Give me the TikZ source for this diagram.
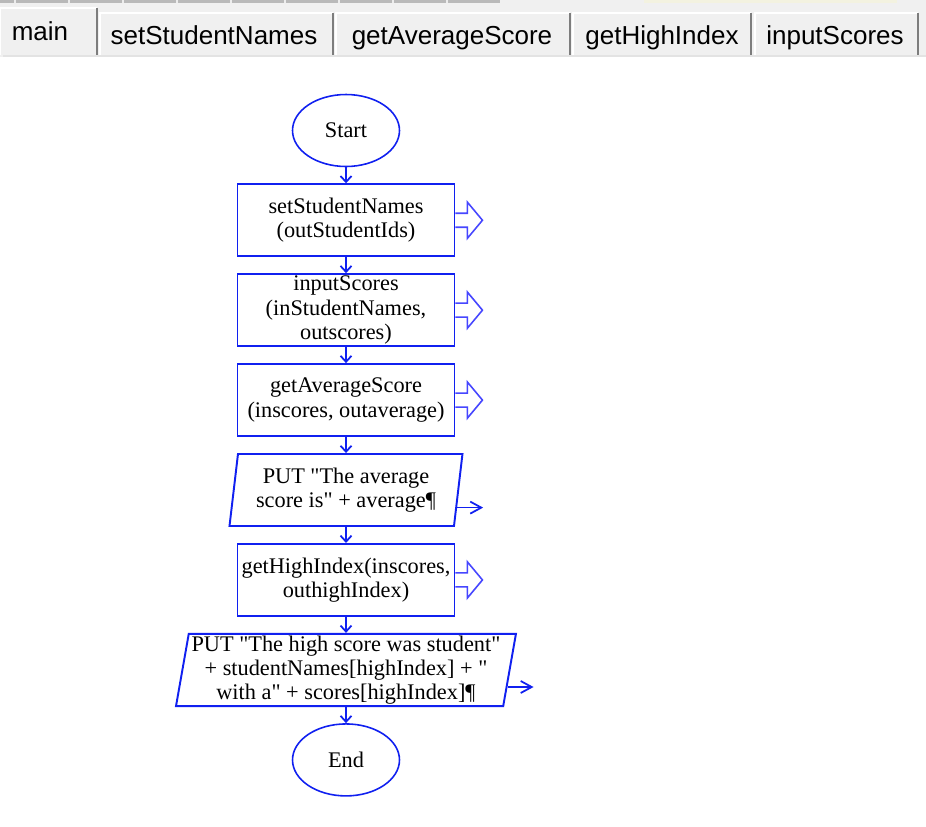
\documentclass[tikz,border=0pt]{standalone}
\usepackage{fontspec}
\setmainfont{Liberation Serif}[Ligatures=TeXOff]
\newfontfamily\tabfont{Liberation Sans}
\usepackage{xcolor}
\usepackage{tikz}
\usetikzlibrary{arrows.meta, positioning, shapes.geometric}
\definecolor{flowblue}{RGB}{16,32,240}
\definecolor{callblue}{RGB}{70,70,255}
\definecolor{tabgray}{RGB}{240,240,240}
\definecolor{tabshade}{RGB}{125,125,125}
\tikzset{
  terminal/.style={ellipse, draw=flowblue, line width=0.9pt, minimum width=2.14cm,
    minimum height=1.44cm, inner sep=0pt, font=\flowfont},
  callbox/.style={rectangle, draw=flowblue, line width=1.1pt, minimum width=4.34cm,
    minimum height=1.44cm, align=center, inner sep=1pt, font=\flowfont},
  outbox/.style={trapezium, trapezium left angle=80, trapezium right angle=100,
    trapezium stretches body, draw=flowblue, line width=1.1pt, minimum height=1.44cm,
    align=center, inner sep=1pt, font=\flowfont},
  flowline/.style={-{Straight Barb[length=1.2mm, width=2.2mm]}, draw=flowblue, line width=1pt},
  outarrow/.style={-{Straight Barb[length=2.2mm, width=2.4mm]}, draw=flowblue, line width=1pt},
  callout/.style={draw=callblue, line width=0.9pt, line join=miter},
  tablabel/.style={font=\tabfont\fontsize{14.8}{17}\selectfont, inner sep=0pt,
    anchor=base, text=black}
}
\newcommand{\flowfont}{\fontsize{12.7}{13.8}\selectfont}
\newcommand{\callarrow}[1]{\draw[callout] (#1.east) ++(0,-7) -- ++(12,0) -- ++(0,-11)
  -- ++(15,18) -- ++(-15,18) -- ++(0,-11) -- ++(-12,0);}
\newcommand{\tabframe}[3]{%
  \draw[white, line width=1pt] (#1,55) -- (#1,#3) -- (#2,#3);
  \draw[tabshade, line width=1.6pt] (#2,#3) -- (#2,55);}

\begin{document}
\begin{tikzpicture}[x=0.02cm, y=-0.02cm, node distance=0.32cm]
  \useasboundingbox (0,0) rectangle (926,826);
  % window and tab strip
  \fill[tabgray] (0,0) rectangle (926,57);
  \fill[white] (3,57) rectangle (926,826);
  \draw[gray!22, line width=1pt] (3,56) -- (926,56);
  \fill[gray!55] (0,0) rectangle (500,3);
  \foreach \x in {15,69,123,177,231,285,339,393,447}
    \draw[gray!15, line width=0.8pt] (\x,0) -- (\x,3);
  \fill[yellow!8!tabgray] (644,0) rectangle (897,3);
  \tabframe{0}{97}{8}
  \tabframe{100}{333}{13}
  \tabframe{336}{570}{13}
  \tabframe{573}{751}{13}
  \tabframe{755}{918}{13}
  \node[tablabel] (tabmain) at (40,40) {main};
  \node[tablabel] (tabnames) at (214,44) {setStudentNames};
  \node[tablabel] (tabavg) at (452,44) {getAverageScore};
  \node[tablabel] (tabhigh) at (662,44) {getHighIndex};
  \node[tablabel] (tabinput) at (835,44) {inputScores};

  % flowchart
  \node[terminal] (start) at (346,130.5) {Start};
  \node[callbox, below=of start] (names) {setStudentNames\\(outStudentIds)};
  \node[callbox, below=of names] (input) {inputScores\\(inStudentNames,\\outscores)};
  \node[callbox, below=of input] (avg) {getAverageScore\\(inscores, outaverage)};
  \node[outbox, minimum width=4.66cm, below=of avg] (putavg) {PUT "The average\\score is" + average¶};
  \node[callbox, below=of putavg] (high) {getHighIndex(inscores,\\outhighIndex)};
  \node[outbox, minimum width=6.8cm, below=of high] (puthigh) {PUT "The high score was student"\\+ studentNames[highIndex] + "\\with a" + scores[highIndex]¶};
  \node[terminal, below=of puthigh] (end) {End};

  \draw[flowline] (start) -- (names);
  \draw[flowline] (names) -- (input);
  \draw[flowline] (input) -- (avg);
  \draw[flowline] (avg) -- (putavg);
  \draw[flowline] (putavg) -- (high);
  \draw[flowline] (high) -- (puthigh);
  \draw[flowline] (puthigh) -- (end);

  \callarrow{names}
  \callarrow{input}
  \callarrow{avg}
  \callarrow{high}
  \draw[outarrow] (putavg.-9.5) -- ++(26,0);
  \draw[outarrow] (puthigh.-6) -- ++(26,0);
\end{tikzpicture}
\end{document}
